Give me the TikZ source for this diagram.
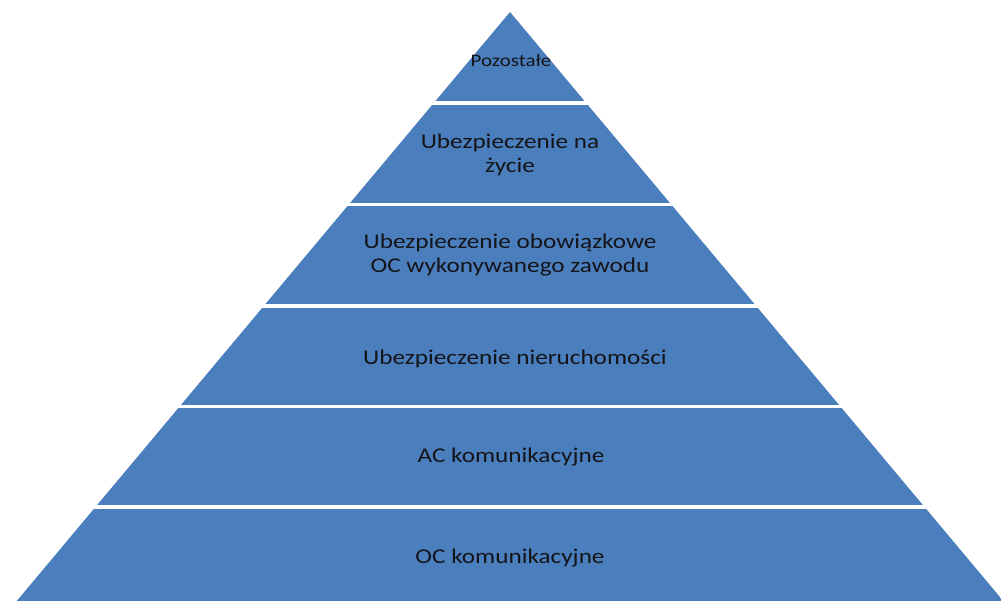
\documentclass[tikz,border=0pt]{standalone}
\usepackage{fontspec}
\setmainfont{Carlito}[FakeStretch=1.2]
\definecolor{tierblue}{RGB}{74,126,188}
\definecolor{tierink}{RGB}{20,20,25}

\begin{document}
\begin{tikzpicture}
[
    x = 1pt, y = -1pt,
    tier/.style = {fill = tierblue},
    tiertext/.style = {text = tierink, align = center, inner sep = 0pt,
        font = \fontsize{21}{24}\selectfont},
    toptext/.style = {tiertext, font = \fontsize{17.5}{20}\selectfont},
]
    \useasboundingbox (0,0) rectangle (1001,600);

    % six tiers, cut out of one triangle
    \begin{scope}
        \clip (510,12) -- (1020,621) -- (0,621) -- cycle;
        \fill[tier] (0,0) rectangle (1020,101);
        \fill[tier] (0,105) rectangle (1020,202.5);
        \fill[tier] (0,206) rectangle (1020,304);
        \fill[tier] (0,307.5) rectangle (1020,404.5);
        \fill[tier] (0,408) rectangle (1020,505);
        \fill[tier] (0,508.5) rectangle (1020,621);
    \end{scope}

    \node[toptext] (pozostale) at (511,60) {Pozostałe};
    \node[tiertext] (zycie) at (510,155) {Ubezpieczenie na\\życie};
    \node[tiertext] (zawod) at (510,255.5) {Ubezpieczenie obowiązkowe\\OC wykonywanego zawodu};
    \node[tiertext] (nieruch) at (515,359) {Ubezpieczenie nieruchomości};
    \node[tiertext] (ackom) at (511,457) {AC komunikacyjne};
    \node[tiertext] (ockom) at (510,557.5) {OC komunikacyjne};
\end{tikzpicture}
\end{document}
